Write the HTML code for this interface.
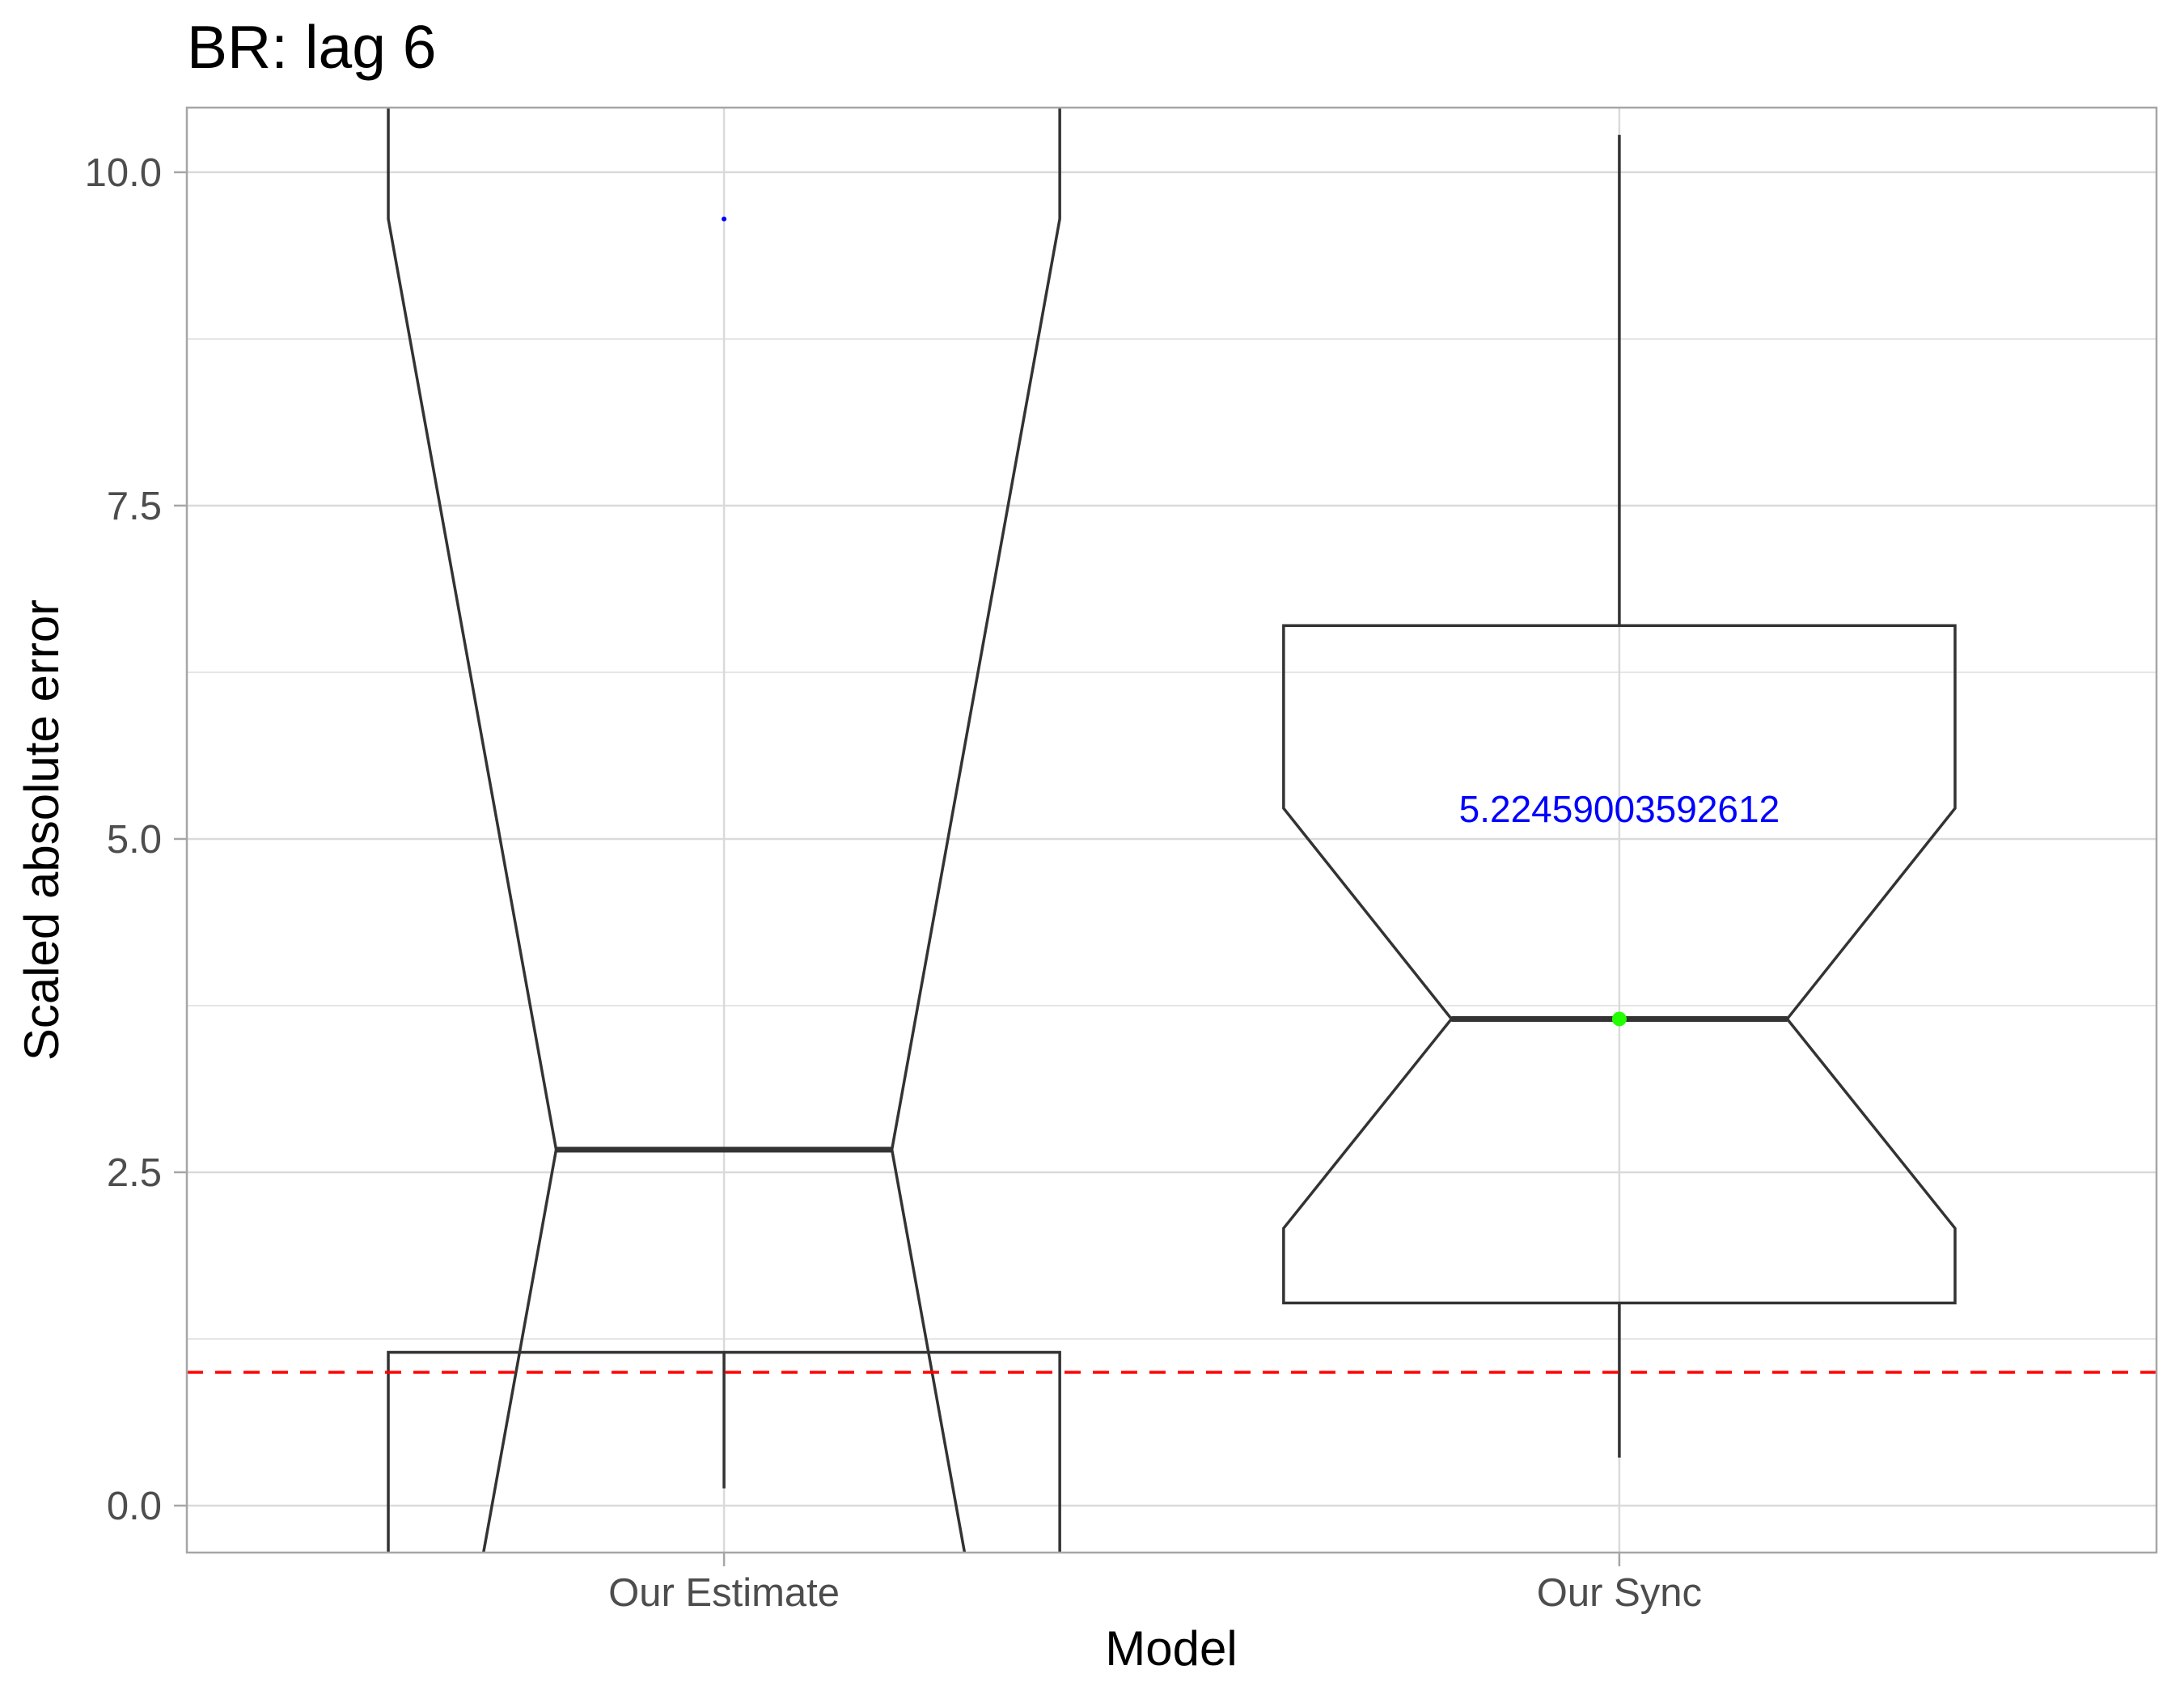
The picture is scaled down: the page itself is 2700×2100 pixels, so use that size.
<!DOCTYPE html>
<html><head><meta charset="utf-8"><style>
html,body{margin:0;padding:0;background:#fff;width:2700px;height:2100px;overflow:hidden;}
svg{display:block;font-family:"Liberation Sans",Arial,sans-serif;}
</style></head><body>
<svg id="chart" width="2700" height="2100" viewBox="0 0 2700 2100" xmlns="http://www.w3.org/2000/svg">
<defs><clipPath id="pc"><rect x="231" y="133" width="2435" height="1786"/></clipPath></defs>
<rect x="0" y="0" width="2700" height="2100" fill="#fff"/>
<text x="231" y="84" font-size="75" fill="#000">BR: lag 6</text>
<g id="grid"></g>
<g id="marks" clip-path="url(#pc)"></g>
<rect x="231" y="133" width="2435" height="1786" fill="none" stroke="#a6a6a6" stroke-width="2.5"/>
<g id="axes"></g>
<text x="1448" y="2058" font-size="60" text-anchor="middle" fill="#000">Model</text>
<text transform="translate(72,1026) rotate(-90)" font-size="60" text-anchor="middle" fill="#000">Scaled absolute error</text>
</svg>
<script>
const categories = ["Our Estimate", "Our Sync"];
const lowerWhisker = [0.13, 0.36];
const lowerHinge = [1.15, 1.52];
const median = [2.67, 3.65];
const upperHinge = [11.5, 6.60];
const upperWhisker = [12.0, 10.28];
const notchLower = [-4.31, 2.08];
const notchUpper = [9.65, 5.23];
const meanPoint = [9.65, null];
const medianPoint = [null, 3.65];
const labelValue = [null, 5.22459003592612];
const yTicks = [0, 2.5, 5, 7.5, 10];
const yTickLabels = ["0.0", "2.5", "5.0", "7.5", "10.0"];
const yMinor = [1.25, 3.75, 6.25, 8.75];
const refLine = [1.0];

const NS = "http://www.w3.org/2000/svg";
const PL = 231, PR = 2666, PT = 133, PB = 1919;
const yMin = -0.352, yMax = 10.485;
const xMin = 0.4, xMax = 2.6;
function ys(v){ return PB - (v - yMin) / (yMax - yMin) * (PB - PT); }
function xs(i){ return PL + ((i + 1) - xMin) / (xMax - xMin) * (PR - PL); }
const unitW = (PR - PL) / (xMax - xMin);
function mk(tag, attrs, parent){ const e = document.createElementNS(NS, tag); for (const k in attrs) e.setAttribute(k, attrs[k]); parent.appendChild(e); return e; }

const grid = document.getElementById('grid');
const marks = document.getElementById('marks');
const axes = document.getElementById('axes');

yMinor.forEach(v => {
  const l = mk('line', {x1: PL, x2: PR, y1: ys(v), y2: ys(v), stroke: '#e6e6e6', 'stroke-width': 2}, grid);
  
  
});
yTicks.forEach((v, i) => {
  const l = mk('line', {x1: PL, x2: PR, y1: ys(v), y2: ys(v), stroke: '#dadada', 'stroke-width': 2.5}, grid);
  
  
  const t = mk('line', {x1: PL - 16, x2: PL, y1: ys(v), y2: ys(v), stroke: '#a6a6a6', 'stroke-width': 2.5}, axes);
  
  
  const tx = mk('text', {x: PL - 31, y: ys(v) + 17, 'font-size': 49, 'text-anchor': 'end', fill: '#4d4d4d'}, axes);
  tx.textContent = yTickLabels[i];
  
  
});
categories.forEach((c, i) => {
  const x = xs(i);
  const l = mk('line', {x1: x, x2: x, y1: PT, y2: PB, stroke: '#dadada', 'stroke-width': 2.5}, grid);
  
  
  const t = mk('line', {x1: x, x2: x, y1: PB, y2: PB + 17, stroke: '#a6a6a6', 'stroke-width': 2.5}, axes);
  
  
  const tx = mk('text', {x: x, y: 1985, 'font-size': 49, 'text-anchor': 'middle', fill: '#4d4d4d'}, axes);
  tx.textContent = c;
  
  
});

categories.forEach((c, i) => {
  const x = xs(i), hw = 0.375 * unitW, ind = 0.1875 * unitW;
  const x0 = x - hw, x1 = x + hw;
  const w1 = mk('line', {x1: x, x2: x, y1: ys(upperHinge[i]), y2: ys(upperWhisker[i]), stroke: '#333', 'stroke-width': 3.5}, marks);
  
  
  const w2 = mk('line', {x1: x, x2: x, y1: ys(lowerHinge[i]), y2: ys(lowerWhisker[i]), stroke: '#333', 'stroke-width': 3.5}, marks);
  
  
  const pts = [[x0, upperHinge[i]], [x0, notchUpper[i]], [x0 + ind, median[i]], [x0, notchLower[i]], [x0, lowerHinge[i]],
    [x1, lowerHinge[i]], [x1, notchLower[i]], [x1 - ind, median[i]], [x1, notchUpper[i]], [x1, upperHinge[i]]];
  const p = mk('polygon', {points: pts.map(q => q[0] + ',' + ys(q[1])).join(' '), fill: 'none', stroke: '#333', 'stroke-width': 3.5, 'stroke-linejoin': 'miter'}, marks);
  
  
  const m = mk('line', {x1: x0 + ind, x2: x1 - ind, y1: ys(median[i]), y2: ys(median[i]), stroke: '#333', 'stroke-width': 7}, marks);
  
  
  if (meanPoint[i] !== null) {
    const d = mk('circle', {cx: x, cy: ys(meanPoint[i]), r: 3, fill: '#0000ff'}, marks);
    
    
  }
  if (medianPoint[i] !== null) {
    const d = mk('circle', {cx: x, cy: ys(medianPoint[i]), r: 9, fill: '#22ff00'}, marks);
    
    
  }
  if (labelValue[i] !== null) {
    const t = mk('text', {x: x, y: ys(labelValue[i]) + 16, 'font-size': 46, 'text-anchor': 'middle', fill: '#0000ff'}, marks);
    t.textContent = String(labelValue[i]);
    
    
  }
});
refLine.forEach(v => {
  const l = mk('line', {x1: PL, x2: PR, y1: ys(v), y2: ys(v), stroke: '#ff0000', 'stroke-width': 3.5, 'stroke-dasharray': '20,15'}, marks);
  
  
});
</script>
</body></html>
